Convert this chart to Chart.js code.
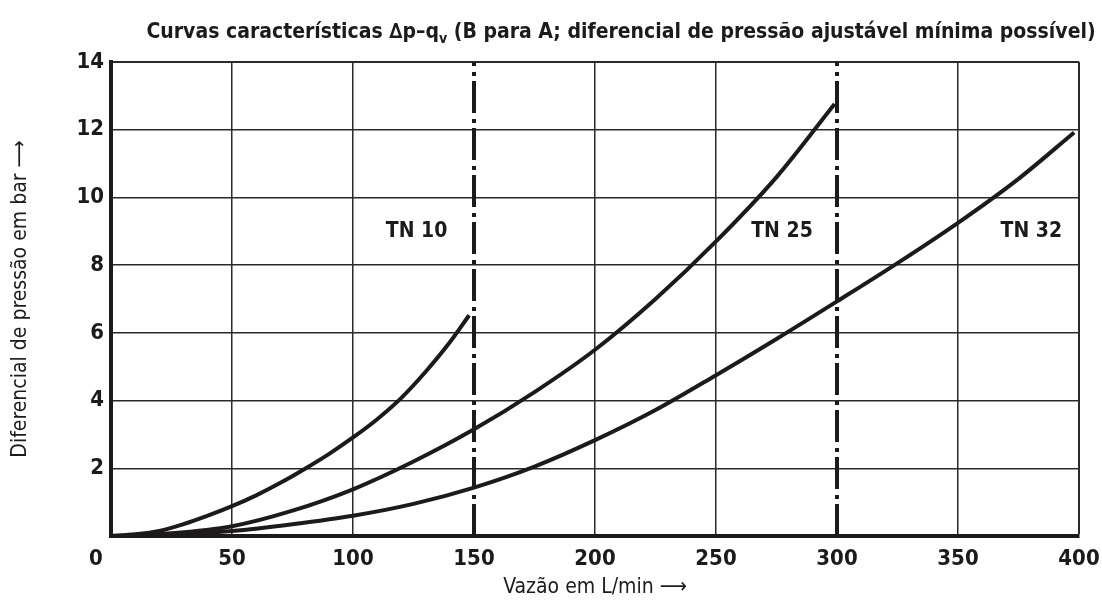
<!DOCTYPE html>
<html>
<head>
<meta charset="utf-8">
<script src="https://cdn.jsdelivr.net/npm/chart.js@4.4.1/dist/chart.umd.min.js"></script>
<style>
  html, body { margin: 0; padding: 0; background: #fff; }
  #wrap { width: 1102px; height: 600px; position: relative; }
</style>
</head>
<body>
<div id="wrap"><canvas id="chartDp"></canvas></div>
<script>
/* Curvas características Δp–qv */

const FONT = "'DejaVu Sans Condensed', 'Liberation Sans Narrow', 'Open Sans', sans-serif";
const INK = "#1c1a1a";

// flow (L/min) and pressure differential (bar)
const flowTN10 = [0, 10, 20, 30, 40, 50, 60, 70, 80, 90, 100, 110, 120, 130, 140, 148];
const dpTN10 = [0, 0.05, 0.15, 0.35, 0.6, 0.88, 1.2, 1.57, 1.98, 2.42, 2.91, 3.45, 4.08, 4.85, 5.72, 6.52];

const flowTN25 = [0, 25, 50, 75, 100, 125, 150, 175, 200, 225, 250, 275, 299];
const dpTN25 = [0, 0.08, 0.29, 0.75, 1.38, 2.2, 3.15, 4.25, 5.5, 7.0, 8.7, 10.6, 12.76];

const flowTN32 = [0, 25, 50, 75, 100, 125, 150, 175, 200, 225, 250, 275, 300, 325, 350, 375, 398];
const dpTN32 = [0, 0.04, 0.15, 0.35, 0.6, 0.95, 1.43, 2.05, 2.83, 3.72, 4.75, 5.82, 6.93, 8.06, 9.25, 10.55, 11.92];

// nominal size limits (dash-dot lines)
const limitFlows = [150, 300];
const limitDp = [0, 14];

const curveLabels = ["TN 10", "TN 25", "TN 32"];
const xTicks = [0, 50, 100, 150, 200, 250, 300, 350, 400];
const yTicks = [0, 2, 4, 6, 8, 10, 12, 14];

const titleText = ["Curvas características ∆p–q", "v", " (B para A; diferencial de pressão ajustável mínima possível)"];
const xTitle = "Vazão em L/min ⟶";
const yTitle = "Diferencial de pressão em bar ⟶";

function toPoints(xs, ys) {
  return xs.map((x, i) => ({ x, y: ys[i] }));
}

function curve(label, xs, ys) {
  return {
    label,
    data: toPoints(xs, ys),
    borderColor: INK,
    borderWidth: 4,
    pointRadius: 0,
    fill: false,
    cubicInterpolationMode: "monotone",
  };
}

function limitLine(flow) {
  return {
    label: "limit " + flow,
    data: limitDp.map((y) => ({ x: flow, y })),
    borderColor: INK,
    borderWidth: 4,
    borderDash: [32, 5, 4, 6],
    pointRadius: 0,
    fill: false,
  };
}

/* title with subscript, the lone "0" and the TN labels */
const extrasPlugin = {
  id: "extras",
  afterDraw(chart) {
    const { ctx, scales } = chart;
    ctx.save();
    ctx.fillStyle = INK;
    ctx.textBaseline = "alphabetic";

    // title
    const big = `bold 21px ${FONT}`;
    const small = `bold 14px ${FONT}`;
    ctx.font = big;
    const w0 = ctx.measureText(titleText[0]).width;
    const w2 = ctx.measureText(titleText[2]).width;
    ctx.font = small;
    const w1 = ctx.measureText(titleText[1]).width;
    let x = 621 - (w0 + w1 + w2) / 2;
    const base = 38;
    ctx.textAlign = "left";
    ctx.font = big;
    ctx.fillText(titleText[0], x, base);
    x += w0;
    ctx.font = small;
    ctx.fillText(titleText[1], x, base + 5);
    x += w1;
    ctx.font = big;
    ctx.fillText(titleText[2], x, base);

    // corner zero
    ctx.font = `bold 22px ${FONT}`;
    ctx.textAlign = "center";
    ctx.textBaseline = "middle";
    ctx.fillText("0", scales.x.left - 15, scales.y.bottom + 23);

    // curve labels (right edge in data units)
    const spots = [
      [139, 9],
      [290, 9],
      [393, 9],
    ];
    ctx.font = `bold 21px ${FONT}`;
    ctx.textAlign = "right";
    curveLabels.forEach((t, i) => {
      const px = scales.x.getPixelForValue(spots[i][0]);
      const py = scales.y.getPixelForValue(spots[i][1]);
      ctx.fillText(t, px, py);
    });
    ctx.restore();
  },
};

function gridWidth(val, edge) {
  if (val === edge) return 2;
  return 1.5;
}

const ctx = document.getElementById("chartDp");
new Chart(ctx, {
  type: "line",
  data: {
    datasets: [
      curve(curveLabels[0], flowTN10, dpTN10),
      curve(curveLabels[1], flowTN25, dpTN25),
      curve(curveLabels[2], flowTN32, dpTN32),
      ...limitFlows.map(limitLine),
    ],
  },
  options: {
    responsive: true,
    maintainAspectRatio: false,
    animation: false,
    layout: { padding: { top: 62, right: 23, left: 0, bottom: 0 } },
    scales: {
      x: {
        type: "linear",
        min: 0,
        max: 400,
        afterBuildTicks: (axis) => {
          axis.ticks = xTicks.map((v) => ({ value: v }));
        },
        afterFit: (axis) => {
          axis.height = 64;
          axis.paddingLeft = 0;
          axis.paddingRight = 0;
        },
        ticks: {
          color: INK,
          font: { family: FONT, size: 22, weight: "bold" },
          padding: 10,
          maxRotation: 0,
          callback: (v) => (v === 0 ? "" : v),
        },
        grid: {
          drawTicks: false,
          color: (c) =>
            limitFlows.includes(c.tick && c.tick.value) ? "rgba(0,0,0,0)" : "#2b2929",
          lineWidth: (c) => gridWidth(c.tick && c.tick.value, 400),
        },
        border: { display: true, width: 4, color: INK },
        title: {
          display: true,
          text: xTitle,
          color: INK,
          font: { family: FONT, size: 21 },
          padding: { top: 0, bottom: 0 },
        },
      },
      y: {
        min: 0,
        max: 14,
        afterBuildTicks: (axis) => {
          axis.ticks = yTicks.map((v) => ({ value: v }));
        },
        afterFit: (axis) => {
          axis.width = 111;
          axis.paddingTop = 0;
          axis.paddingBottom = 0;
        },
        ticks: {
          color: INK,
          font: { family: FONT, size: 22, weight: "bold" },
          padding: 7,
          callback: (v) => (v === 0 ? "" : v),
        },
        grid: {
          drawTicks: false,
          color: "#2b2929",
          lineWidth: (c) => gridWidth(c.tick && c.tick.value, 14),
        },
        border: { display: true, width: 4, color: INK },
        title: {
          display: true,
          text: yTitle,
          color: INK,
          font: { family: FONT, size: 21 },
          padding: { top: 8, bottom: 0 },
        },
      },
    },
    plugins: {
      legend: { display: false },
      tooltip: { enabled: false },
    },
  },
  plugins: [extrasPlugin],
});
</script>
</body>
</html>
